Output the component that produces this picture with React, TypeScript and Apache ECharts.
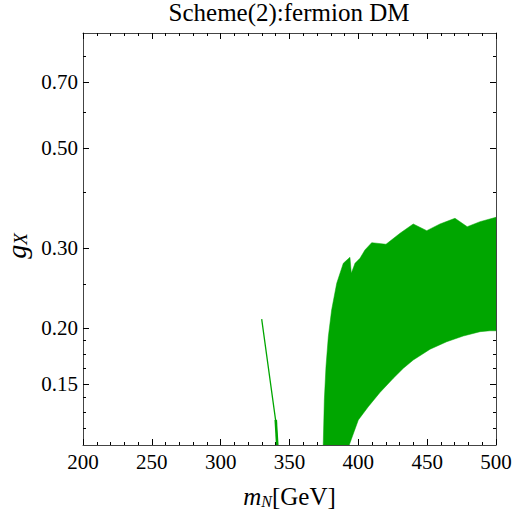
import React, { useEffect, useRef } from "react";
import * as echarts from "echarts";

const chartTitle = "Scheme(2):fermion DM";
const xMin = 200;
const xMax = 500;
const xStep = 50;
const yMin = 0.11;
const yMax = 0.9;
const yMajorTicks = [0.15, 0.2, 0.3, 0.5, 0.7];
const yMinorTicks = [0.12, 0.13, 0.14, 0.1625, 0.175, 0.1875, 0.25, 0.4, 0.6, 0.8];

// thin allowed branch near 330-341 GeV
const branchX = [329.8, 340.2, 341.1];
const branchY = [0.209, 0.123, 0.11];
const branchStubX = [340.0, 341.1];
const branchStubY = [0.125, 0.11];

// main allowed region: upper boundary (left to right)
const regionTopX = [374.5, 375.3, 376.5, 378.2, 380.6, 384.3, 389.1, 393.9, 394.9, 397.6, 401.2, 404.8, 409.7, 420.1, 430.3, 439.9, 449.7, 459.3, 470.2, 479.1, 488.4, 500];
const regionTopY = [0.11, 0.1384, 0.164, 0.1912, 0.2191, 0.251, 0.278, 0.2866, 0.2641, 0.278, 0.2852, 0.2975, 0.3088, 0.3063, 0.324, 0.3397, 0.3283, 0.3397, 0.3497, 0.335, 0.3437, 0.3515];
// lower boundary (right to left)
const regionBottomX = [500, 495.6, 488.4, 476.2, 464.2, 452.1, 439.9, 432.7, 425.4, 415.7, 407.2, 400, 393.4];
const regionBottomY = [0.197, 0.197, 0.1961, 0.1918, 0.1863, 0.1793, 0.1697, 0.1627, 0.1546, 0.1438, 0.1337, 0.125, 0.11];

const GREEN = "#00a600";
const FRAME = "#444";
const FONT = "Liberation Serif";

export default function App() {
  const ref = useRef<HTMLDivElement>(null);
  useEffect(() => {
    if (!ref.current) return;
    const chart = echarts.init(ref.current, null, { renderer: "svg" });
    const regionPts: number[][] = [];
    regionTopX.forEach((x, i) => regionPts.push([x, regionTopY[i]]));
    regionBottomX.forEach((x, i) => regionPts.push([x, regionBottomY[i]]));

    const xBase = (pos: "bottom" | "top", labels: boolean) => ({
      type: "value",
      position: pos,
      min: xMin,
      max: xMax,
      interval: xStep,
      axisLine: { show: true, onZero: false, lineStyle: { color: FRAME, width: 1 } },
      axisTick: { show: true, inside: true, length: 6, lineStyle: { color: "#000" } },
      minorTick: { show: true, splitNumber: 5, length: 3, lineStyle: { color: "#000" } },
      splitLine: { show: false },
      minorSplitLine: { show: false },
      axisLabel: {
        show: labels,
        margin: 6,
        fontFamily: FONT,
        fontSize: 21,
        color: "#000",
      },
    });
    const yBase = (pos: "left" | "right", major: boolean, labels: boolean) => ({
      type: "log",
      position: pos,
      min: yMin,
      max: yMax,
      axisLine: { show: major, lineStyle: { color: FRAME, width: 1 } },
      axisTick: {
        show: true,
        inside: true,
        length: major ? 6 : 3,
        customValues: major ? yMajorTicks : yMinorTicks,
        lineStyle: { color: "#000" },
      },
      splitLine: { show: false },
      axisLabel: {
        show: labels,
        customValues: yMajorTicks,
        margin: 5,
        fontFamily: FONT,
        fontSize: 21,
        color: "#000",
        formatter: (v: number) => v.toFixed(2),
      },
    });

    const xAxis: any[] = [xBase("bottom", true), xBase("top", false)];
    xAxis[0].name = "{i|m}{s|N}{r|[GeV]}";
    xAxis[0].nameLocation = "middle";
    xAxis[0].nameGap = 39;
    xAxis[0].nameTextStyle = {
      rich: {
        i: { fontFamily: FONT, fontStyle: "italic", fontSize: 25, color: "#000", verticalAlign: "top", lineHeight: 25 },
        s: { fontFamily: FONT, fontStyle: "italic", fontSize: 16, color: "#000", verticalAlign: "bottom", lineHeight: 16, padding: [12, 0, 0, 0] },
        r: { fontFamily: FONT, fontSize: 25, color: "#000", verticalAlign: "top", lineHeight: 25 },
      },
    };
    const yAxis: any[] = [
      yBase("left", true, true),
      yBase("left", false, false),
      yBase("right", true, false),
      yBase("right", false, false),
    ];
    yAxis[0].name = "{i|g}{s|X}";
    yAxis[0].nameLocation = "middle";
    yAxis[0].nameRotate = 90;
    yAxis[0].nameGap = 53;
    yAxis[0].nameTextStyle = {
      padding: [0, 14, 0, 0],
      rich: {
        i: { fontFamily: FONT, fontStyle: "italic", fontSize: 28, color: "#000", verticalAlign: "top", lineHeight: 28 },
        s: { fontFamily: FONT, fontStyle: "italic", fontSize: 19, color: "#000", verticalAlign: "bottom", lineHeight: 19, padding: [13, 0, 0, 0] },
      },
    };

    chart.setOption({
      animation: false,
      title: {
        text: chartTitle,
        left: 289,
        top: 0,
        padding: 0,
        textAlign: "center",
        textStyle: { fontFamily: FONT, fontSize: 25, fontWeight: "normal", color: "#000" },
      },
      grid: { left: 83, right: 16, top: 33, bottom: 64, containLabel: false, outerBoundsMode: "none" },
      xAxis,
      yAxis,
      series: [
        {
          type: "custom",
          coordinateSystem: "cartesian2d",
          xAxisIndex: 0,
          yAxisIndex: 0,
          clip: true,
          silent: true,
          data: [regionPts[0]],
          renderItem: (_params: any, api: any) => ({
            type: "polygon",
            shape: { points: regionPts.map((p) => api.coord(p)) },
            style: { fill: GREEN, stroke: GREEN, lineWidth: 0.5 },
          }),
        },
        {
          type: "line",
          xAxisIndex: 0,
          yAxisIndex: 0,
          showSymbol: false,
          clip: true,
          silent: true,
          lineStyle: { color: GREEN, width: 1.3 },
          data: branchX.map((x, i) => [x, branchY[i]]),
        },
        {
          type: "line",
          xAxisIndex: 0,
          yAxisIndex: 0,
          showSymbol: false,
          clip: true,
          silent: true,
          lineStyle: { color: GREEN, width: 2.6 },
          data: branchStubX.map((x, i) => [x, branchStubY[i]]),
        },
      ],
    });
    return () => chart.dispose();
  }, []);
  return (
    <div
      ref={ref}
      style={{ position: "absolute", left: 0, top: 0, width: 512, height: 509, background: "#fff" }}
    />
  );
}
